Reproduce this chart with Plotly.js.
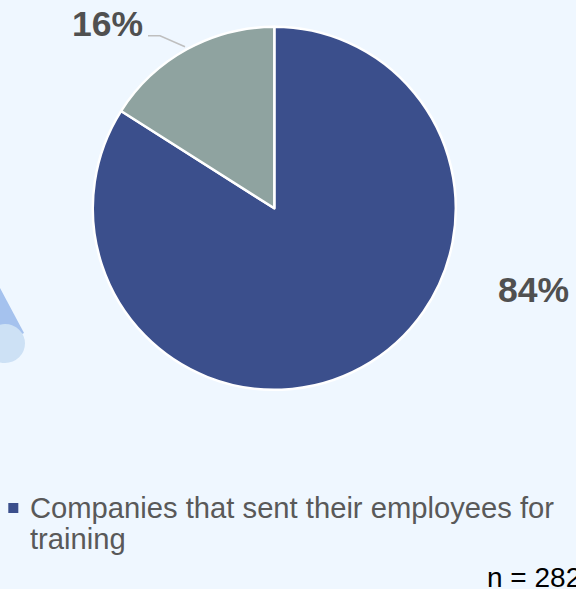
<!DOCTYPE html>
<html>
<head>
<meta charset="utf-8">
<script src="https://cdn.plot.ly/plotly-3.0.1.min.js"></script>
<style>html,body{margin:0;padding:0;background:#EFF7FF;}#chart{width:576px;height:589px;}</style>
</head>
<body>
<div id="chart"></div>
<script>
var labels = ["Companies that sent their employees for training", "Companies that did not send their employees for training"];
var values = [84, 16];
var colors = ["#3B4F8C", "#8FA3A0"];
var sampleNote = "n = 282";

var total = values.reduce(function(a, b){ return a + b; }, 0);
var pct = values.map(function(v){ return Math.round(v / total * 100) + "%"; });

var trace = {
  type: "pie",
  labels: labels,
  values: values,
  sort: false,
  direction: "clockwise",
  rotation: 0,
  textinfo: "none",
  hoverinfo: "label+percent",
  marker: {colors: colors, line: {color: "#FFFFFF", width: 2.5}},
  domain: {x: [0.1611, 0.7913], y: [0.3382, 0.9545]},
  showlegend: false
};

var labelFont = {family: "Liberation Sans, Arial, sans-serif", size: 35.5, color: "#505050", weight: "bold"};
var legendFont = {family: "Liberation Sans, Arial, sans-serif", size: 29.2, color: "#595959"};

var layout = {
  width: 576, height: 589,
  margin: {l: 0, r: 0, t: 0, b: 0},
  paper_bgcolor: "#EFF7FF",
  plot_bgcolor: "#EFF7FF",
  showlegend: false,
  shapes: [
    {type: "path", xref: "paper", yref: "paper", layer: "below",
     path: "M 0,0.511 L 0.0417,0.4346 L 0,0.4143 Z",
     fillcolor: "#A5C2EE", line: {width: 0}},
    {type: "circle", xref: "paper", yref: "paper", layer: "below",
     x0: -0.026, x1: 0.0434, y0: 0.3837, y1: 0.4499,
     fillcolor: "#CDE1F5", line: {width: 0}},
    {type: "path", xref: "paper", yref: "paper",
     path: "M 0.2569,0.9394 L 0.2778,0.9394 L 0.3212,0.9207",
     line: {color: "#BFBFBF", width: 1.5}},
    {type: "rect", xref: "paper", yref: "paper",
     x0: 0.0144, x1: 0.0318, y0: 0.1290, y1: 0.1460,
     fillcolor: colors[0], line: {width: 0}}
  ],
  annotations: [
    {text: pct[1], xref: "paper", yref: "paper", x: 0.1866, y: 0.9600, xanchor: "center", yanchor: "middle", showarrow: false, font: labelFont},
    {text: pct[0], xref: "paper", yref: "paper", x: 0.9262, y: 0.5068, xanchor: "center", yanchor: "middle", showarrow: false, font: labelFont},
    {text: "Companies that sent their employees for", xref: "paper", yref: "paper", x: 0.0486, y: 0.1375, xanchor: "left", yanchor: "middle", showarrow: false, font: legendFont},
    {text: "training", xref: "paper", yref: "paper", x: 0.0486, y: 0.0852, xanchor: "left", yanchor: "middle", showarrow: false, font: legendFont},
    {text: sampleNote, xref: "paper", yref: "paper", x: 0.842, y: 0.0200, xanchor: "left", yanchor: "middle", showarrow: false, font: {family: "Liberation Sans, Arial, sans-serif", size: 28, color: "#000000"}}
  ]
};

Plotly.newPlot("chart", [trace], layout, {displayModeBar: false, staticPlot: false});
</script>
</body>
</html>
